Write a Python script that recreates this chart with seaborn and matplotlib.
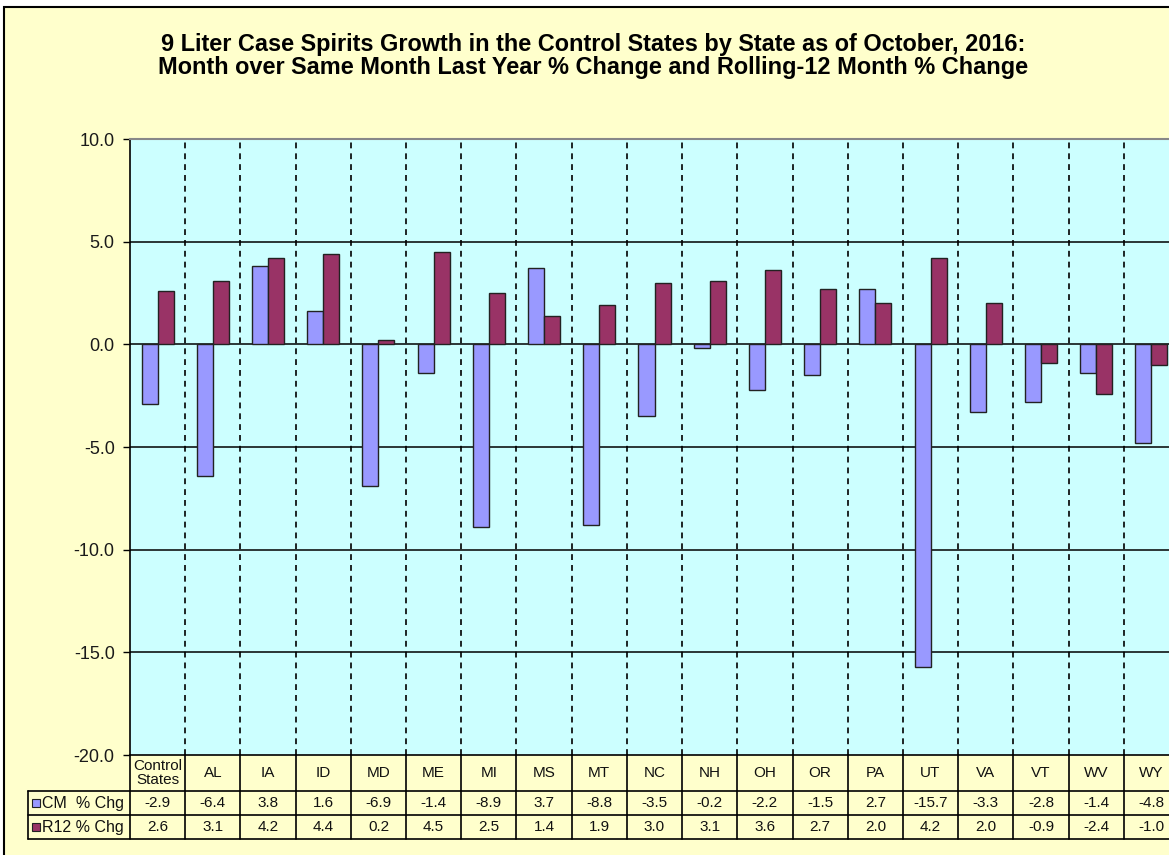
import numpy as np
import pandas as pd
import matplotlib
matplotlib.use("Agg")
import matplotlib.pyplot as plt
from matplotlib.patches import Rectangle
from matplotlib.ticker import FormatStrFormatter, MultipleLocator
import seaborn as sns

# ---- data ----
states = ['Control\nStates', 'AL', 'IA', 'ID', 'MD', 'ME', 'MI', 'MS', 'MT', 'NC',
          'NH', 'OH', 'OR', 'PA', 'UT', 'VA', 'VT', 'WV', 'WY']
cm_chg = [-2.9, -6.4, 3.8, 1.6, -6.9, -1.4, -8.9, 3.7, -8.8, -3.5,
          -0.2, -2.2, -1.5, 2.7, -15.7, -3.3, -2.8, -1.4, -4.8]
r12_chg = [2.6, 3.1, 4.2, 4.4, 0.2, 4.5, 2.5, 1.4, 1.9, 3.0,
           3.1, 3.6, 2.7, 2.0, 4.2, 2.0, -0.9, -2.4, -1.0]
series_names = ['CM  % Chg', 'R12 % Chg']
series_colors = ['#9999FF', '#993366']
title = ("9 Liter Case Spirits Growth in the Control States by State as of October, 2016:\n"
         "Month over Same Month Last Year % Change and Rolling-12 Month % Change")

df = pd.DataFrame({
    'state': states * 2,
    'value': cm_chg + r12_chg,
    'series': [series_names[0]] * len(states) + [series_names[1]] * len(states),
})

sns.set_theme(style="white")
plt.rcParams['font.family'] = ['Liberation Sans', 'DejaVu Sans']
plt.rcParams['axes.unicode_minus'] = False

W, H = 1169, 855
fig = plt.figure(figsize=(W / 100, H / 100), dpi=100)
fig.patch.set_facecolor('white')
# chart area background with border
fig.patches.append(Rectangle((4 / W, -0.2), 1.2, 1.2 - 7 / H, transform=fig.transFigure,
                             facecolor='#FFFFCC', edgecolor='black', linewidth=1.5, zorder=-10))

# main plot area (extends slightly past right edge as in reference)
L, R, T, B = 130, 1179, 139, 755
ax = fig.add_axes([L / W, 1 - B / H, (R - L) / W, (B - T) / H])
ax.set_facecolor('#CCFFFF')

sns.barplot(data=df, x='state', y='value', hue='series', palette=series_colors,
            width=0.58, edgecolor='#222222', linewidth=1.0, saturation=1, ax=ax, legend=False,
            zorder=3)

n = len(states)
ax.set_xlim(-0.5, n - 0.5)
ax.set_ylim(-20, 10)
ax.yaxis.set_major_locator(MultipleLocator(5))
ax.yaxis.set_major_formatter(FormatStrFormatter('%.1f'))
ax.tick_params(axis='y', which='major', direction='out', length=5, width=1, color='black',
               labelsize=13, labelcolor='#1a1a1a', pad=6, left=True)
ax.tick_params(axis='x', bottom=False, labelbottom=False)
ax.set_xlabel('')
ax.set_ylabel('')

for yv in [5, 0, -5, -10, -15]:
    ax.axhline(yv, color='black', linewidth=1.1, zorder=2)
for xv in np.arange(0.5, n - 0.5, 1.0):
    ax.axvline(xv, color='black', linewidth=1.2, linestyle=(0, (3.5, 3)), zorder=2)

for side in ['right', 'bottom']:
    ax.spines[side].set_visible(False)
ax.spines['top'].set_color('#888888')
ax.spines['top'].set_linewidth(1.5)
ax.spines['left'].set_color('black')
ax.spines['left'].set_linewidth(1.2)

# ---- data table ----
TB = 840
tax = fig.add_axes([L / W, 1 - TB / H, (R - L) / W, (TB - B) / H])
tax.set_xlim(-0.5, n - 0.5)
tax.set_ylim(TB - B, 0)
tax.axis('off')
cw = (R - L) / n  # px per category
xleft = -0.5 - (L - 28) / cw
lw = 1.2
rows_y = [0, 36, 60, 84]
tax.plot([-0.5, n - 0.5], [0, 0], color='black', lw=lw, clip_on=False)
for yv in rows_y[1:]:
    tax.plot([xleft, n - 0.5], [yv, yv], color='black', lw=lw, clip_on=False)
for xv in np.arange(-0.5, n, 1.0):
    tax.plot([xv, xv], [0, 84], color='black', lw=lw, clip_on=False)
tax.plot([xleft, xleft], [36, 84], color='black', lw=lw, clip_on=False)

fs = 11
for i, s in enumerate(states):
    tax.text(i, 18, s, ha='center', va='center', fontsize=fs, color='#111111',
             linespacing=1.0, clip_on=False)
for i in range(n):
    tax.text(i, 48, f"{cm_chg[i]:.1f}", ha='center', va='center', fontsize=fs, color='#111111')
    tax.text(i, 72, f"{r12_chg[i]:.1f}", ha='center', va='center', fontsize=fs, color='#111111')

key_w = 8 / cw
for j, (name, col) in enumerate(zip(series_names, series_colors)):
    yc = 48 + 24 * j
    tax.add_patch(Rectangle((xleft + 4 / cw, yc - 4), key_w, 8, facecolor=col,
                            edgecolor='#222222', linewidth=0.8, clip_on=False))
    tax.text(xleft + 14 / cw, yc, name, ha='left', va='center', fontsize=fs + 0.5,
             color='#111111', clip_on=False)

fig.text(593 / W, 1 - 56 / H, title, ha='center', va='center', fontsize=16.9,
         fontweight='bold', color='black', linespacing=1.03)

fig.savefig('out.png', dpi=100, facecolor=fig.get_facecolor())
